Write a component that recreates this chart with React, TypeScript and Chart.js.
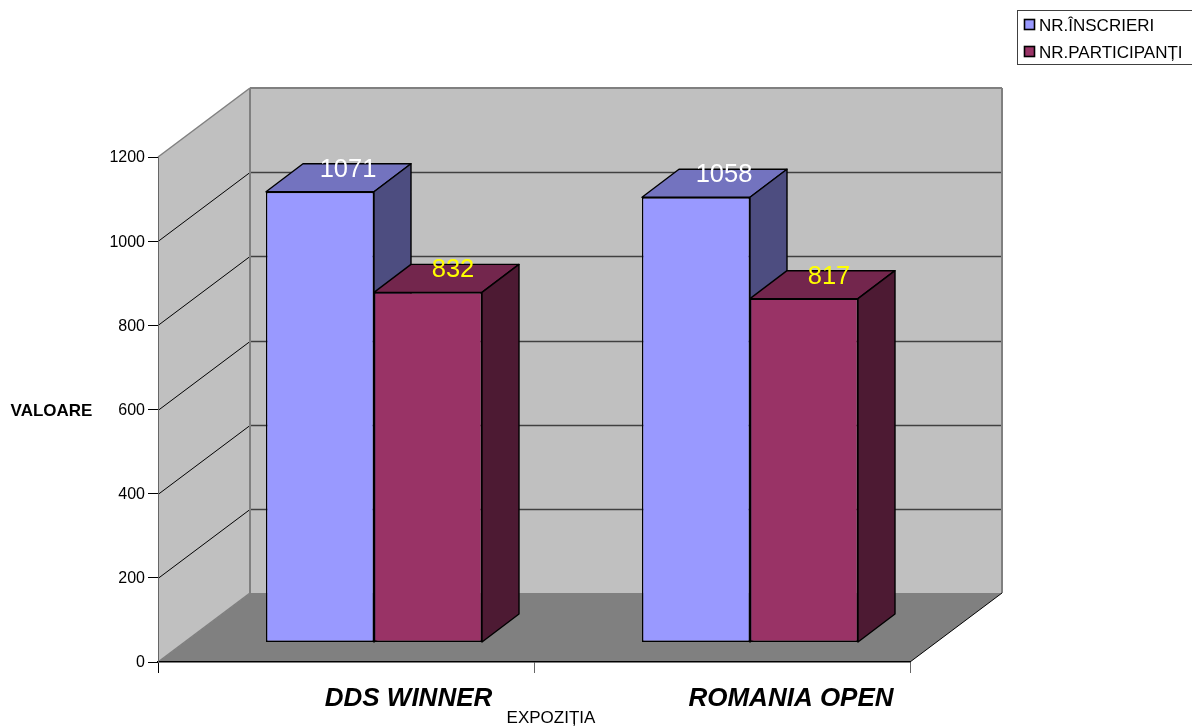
import React, { useEffect, useRef } from "react";
import { Chart, registerables } from "chart.js";

Chart.register(...registerables);

const categories = ["DDS WINNER", "ROMANIA OPEN"];
const inscrieri = [1071, 1058];
const participanti = [832, 817];
const seriesNames = ["NR.ÎNSCRIERI", "NR.PARTICIPANȚI"];
const yTickStep = 200;
const yMax = 1200;
const yTitle = "VALOARE";
const xTitle = "EXPOZIȚIA";

const FONT = '"Liberation Sans", Arial, sans-serif';
const WALL = { dx: 92, dy: -69 };
const PLANE = { dx: 28, dy: -19.5 };
const DEPTH = { dx: 37, dy: -28 };
const LABEL_NUDGE = [-3, 3.5];
const faces = [
  { front: "#9999FF", top: "#7373BF", side: "#4D4D80", label: "#FFFFFF", labelDx: 28 },
  { front: "#993366", top: "#73264D", side: "#4D1A33", label: "#FFFF00", labelDx: 25 },
];

function poly(ctx: any, pts: number[][], fill?: string, stroke?: string, lw = 1) {
  ctx.beginPath();
  pts.forEach((p, i) => (i ? ctx.lineTo(p[0], p[1]) : ctx.moveTo(p[0], p[1])));
  ctx.closePath();
  if (fill) { ctx.fillStyle = fill; ctx.fill(); }
  if (stroke) { ctx.strokeStyle = stroke; ctx.lineWidth = lw; ctx.stroke(); }
}

function line(ctx: any, x1: number, y1: number, x2: number, y2: number, color: string, lw: number) {
  ctx.beginPath();
  ctx.moveTo(x1, y1);
  ctx.lineTo(x2, y2);
  ctx.strokeStyle = color;
  ctx.lineWidth = lw;
  ctx.stroke();
}

const walls3d = {
  id: "walls3d",
  afterLayout(chart: any) {
    const x = chart.scales.x;
    const origX = x.getLabelItems.bind(x);
    x.getLabelItems = (area: any) =>
      origX(area).map((it: any, i: number) => ({
        ...it,
        options: {
          ...it.options,
          translation: [it.options.translation[0] + LABEL_NUDGE[i], it.options.translation[1]],
        },
      }));
    const y = chart.scales.y;
    const origY = y.getLabelItems.bind(y);
    y.getLabelItems = (area: any) =>
      origY(area).map((it: any) => ({
        ...it,
        options: {
          ...it.options,
          translation: [it.options.translation[0], it.options.translation[1] + 1],
        },
      }));
  },
  beforeDraw(chart: any) {
    const { ctx, chartArea: a, scales } = chart;
    const y = scales.y;
    const L = a.left, R = a.right;
    const y0 = y.getPixelForValue(0), yT = y.getPixelForValue(yMax);
    const { dx, dy } = WALL;
    ctx.save();
    poly(ctx, [[L, yT], [L + dx, yT + dy], [L + dx, y0 + dy], [L, y0]], "#C0C0C0");
    poly(ctx, [[L + dx, yT + dy], [R + dx, yT + dy], [R + dx, y0 + dy], [L + dx, y0 + dy]], "#C0C0C0");
    poly(ctx, [[L, y0], [R, y0], [R + dx, y0 + dy], [L + dx, y0 + dy]], "#808080");
    for (let v = yTickStep; v < yMax; v += yTickStep) {
      const py = Math.round(y.getPixelForValue(v)) + 0.5;
      line(ctx, L, py, L + dx, py + dy, "#000000", 1);
      line(ctx, L + dx, py + dy, R + dx, py + dy, "#404040", 1.3);
    }
    line(ctx, L, yT, L + dx, yT + dy, "#808080", 1.5);
    line(ctx, L + dx, yT + dy, R + dx, yT + dy, "#808080", 2);
    line(ctx, L + dx, yT + dy, L + dx, y0 + dy, "#808080", 2);
    line(ctx, R + dx, yT + dy, R + dx, y0 + dy, "#808080", 2);
    line(ctx, L, y0, L + dx, y0 + dy, "#808080", 1.5);
    line(ctx, R, y0, R + dx, y0 + dy, "#000000", 1);
    ctx.restore();
  },
};

const bars3d = {
  id: "bars3d",
  beforeDatasetsDraw(chart: any) {
    const { ctx } = chart;
    ctx.save();
    ctx.translate(PLANE.dx, PLANE.dy);
    ctx.lineJoin = "round";
    chart.data.datasets.forEach((_: any, di: number) => {
      chart.getDatasetMeta(di).data.forEach((bar: any) => {
        const { x, y, base, width } = bar.getProps(["x", "y", "base", "width"], true);
        const l = x - width / 2, r = x + width / 2;
        const { dx, dy } = DEPTH;
        poly(ctx, [[l, y], [r, y], [r + dx, y + dy], [l + dx, y + dy]], faces[di].top, "#000", 1.4);
        poly(ctx, [[r, y], [r + dx, y + dy], [r + dx, base + dy], [r, base]], faces[di].side, "#000", 1.4);
      });
    });
  },
  afterDatasetsDraw(chart: any) {
    const { ctx } = chart;
    ctx.restore();
    ctx.save();
    ctx.font = `25.5px ${FONT}`;
    ctx.textAlign = "center";
    ctx.textBaseline = "middle";
    chart.data.datasets.forEach((ds: any, di: number) => {
      chart.getDatasetMeta(di).data.forEach((bar: any, i: number) => {
        const { x, y } = bar.getProps(["x", "y"], true);
        ctx.fillStyle = faces[di].label;
        ctx.fillText(String(ds.data[i]), x + PLANE.dx + faces[di].labelDx, y + PLANE.dy - 22);
      });
    });
    ctx.restore();
  },
};

const annotations = {
  id: "annotations",
  afterDraw(chart: any) {
    const { ctx } = chart;
    ctx.save();
    ctx.fillStyle = "#000";
    ctx.textBaseline = "middle";
    ctx.font = `bold 17px ${FONT}`;
    ctx.textAlign = "center";
    ctx.fillText(yTitle, 51.5, 411);
    ctx.font = `17px ${FONT}`;
    ctx.fillText(xTitle, 551, 718);
    ctx.strokeStyle = "#404040";
    ctx.lineWidth = 1;
    ctx.strokeRect(1017.5, 10.5, 175, 54);
    ctx.textAlign = "left";
    chart.data.datasets.forEach((ds: any, i: number) => {
      const rowY = 25 + i * 27;
      ctx.fillStyle = ds.backgroundColor;
      ctx.fillRect(1024.5, rowY - 5.5, 10, 10);
      ctx.strokeStyle = "#000";
      ctx.lineWidth = 1.6;
      ctx.strokeRect(1024.5, rowY - 5.5, 10, 10);
      ctx.fillStyle = "#000";
      ctx.fillText(ds.label, 1039, rowY + 1);
    });
    ctx.restore();
  },
};

export default function App() {
  const ref = useRef<HTMLCanvasElement>(null);
  useEffect(() => {
    const chart = new Chart(ref.current as any, {
      type: "bar",
      data: {
        labels: categories,
        datasets: [
          { label: seriesNames[0], data: inscrieri, backgroundColor: faces[0].front, borderColor: "#000", borderWidth: 1.4, borderSkipped: false },
          { label: seriesNames[1], data: participanti, backgroundColor: faces[1].front, borderColor: "#000", borderWidth: 1.4, borderSkipped: false },
        ],
      },
      options: {
        responsive: false,
        animation: false,
        layout: { padding: { left: 0, top: 157, right: 282, bottom: 0 } },
        categoryPercentage: 216 / 376,
        barPercentage: 1,
        plugins: { legend: { display: false }, tooltip: { enabled: false }, title: { display: false } },
        scales: {
          x: {
            type: "category",
            afterFit: (s: any) => { s.height = 64; },
            border: { color: "#000", width: 1.5 },
            grid: {
              drawOnChartArea: false,
              drawTicks: true,
              tickLength: 11,
              offset: true,
              color: (c: any) => (c.index === 0 ? "#000" : "#666"),
            },
            ticks: {
              color: "#000",
              font: { family: FONT, size: 26, weight: "bold", style: "italic" },
              labelOffset: 65.5,
              padding: 10,
              maxRotation: 0,
              autoSkip: false,
            },
          },
          y: {
            min: 0,
            max: yMax,
            afterFit: (s: any) => { s.width = 158; },
            border: { color: "#666", width: 1 },
            grid: { drawOnChartArea: false, drawTicks: true, tickLength: 10, color: "#000" },
            ticks: {
              stepSize: yTickStep,
              color: "#000",
              font: { family: FONT, size: 16 },
              padding: 3,
              callback: (v: any) => String(v),
            },
          },
        },
      },
      plugins: [walls3d, bars3d, annotations],
    } as any);
    return () => chart.destroy();
  }, []);
  return (
    <div style={{ position: "fixed", left: 0, top: 0, width: 1192, height: 726, background: "#fff" }}>
      <canvas ref={ref} width={1192} height={726} style={{ display: "block" }} />
    </div>
  );
}
